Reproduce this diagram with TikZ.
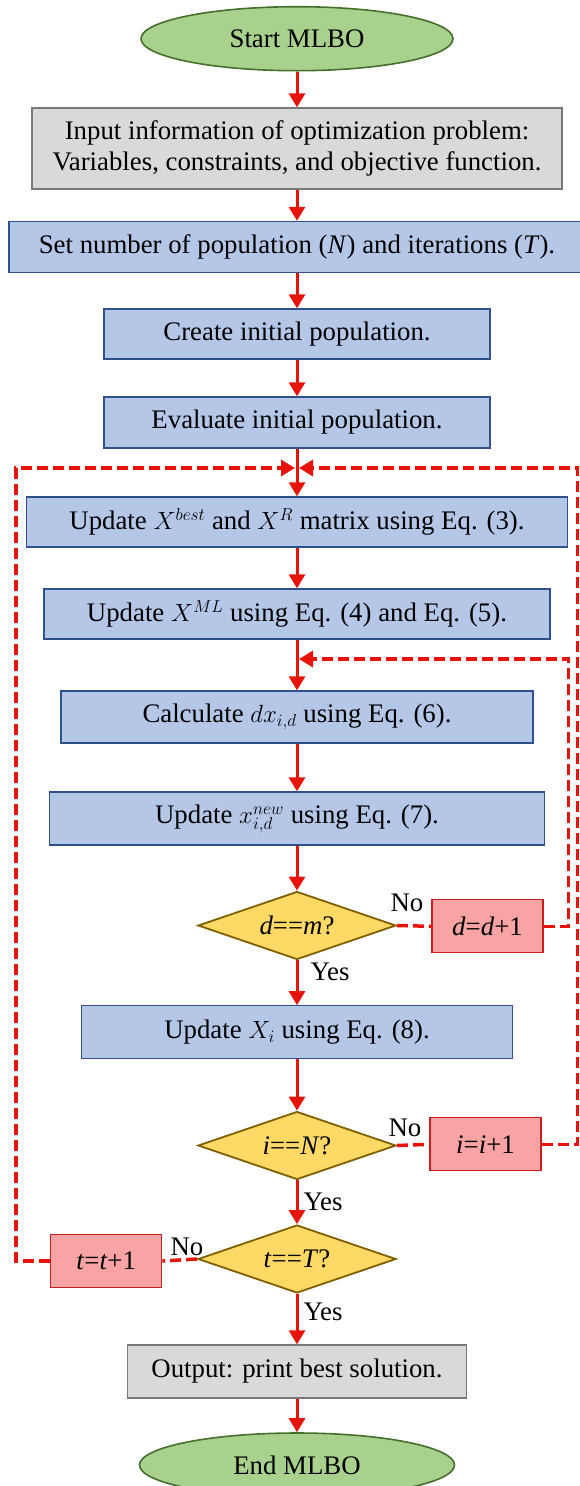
\documentclass[tikz,border=0pt]{standalone}
\usepackage{fontspec}
\setmainfont{Liberation Serif}
\usetikzlibrary{shapes.geometric,arrows.meta}
\definecolor{ared}{RGB}{230,20,10}
\definecolor{bfill}{RGB}{180,199,231}
\definecolor{bline}{RGB}{47,82,143}
\definecolor{gfill}{RGB}{217,217,217}
\definecolor{gline}{RGB}{120,120,120}
\definecolor{tfill}{RGB}{169,209,142}
\definecolor{tline}{RGB}{70,110,45}
\definecolor{yfill}{RGB}{255,217,102}
\definecolor{yline}{RGB}{127,96,0}
\definecolor{rfill}{RGB}{248,164,164}
\definecolor{rline}{RGB}{200,30,30}
\tikzset{
  bbox/.style={rectangle, draw=bline, fill=bfill, line width=1.3pt, inner sep=0pt, align=center},
  gbox/.style={rectangle, draw=gline, fill=gfill, line width=1.3pt, inner sep=0pt, align=center},
  rbox/.style={rectangle, draw=rline, fill=rfill, line width=1.3pt, inner sep=0pt, minimum width=111pt, minimum height=53pt},
  term/.style={ellipse, draw=tline, fill=tfill, line width=1.6pt, inner sep=0pt, minimum width=312pt, minimum height=64pt},
  dec/.style={diamond, draw=yline, fill=yfill, line width=1.8pt, inner sep=0pt, aspect=2.9, minimum width=198pt, minimum height=68pt},
  lbl/.style={inner sep=0pt},
  arr/.style={draw=ared, line width=3pt, -{Triangle[width=16pt,length=14pt]}},
  dloop/.style={draw=ared, line width=3.5pt, dash pattern=on 11pt off 5pt},
  darr/.style={dloop, -{Triangle[width=16pt,length=14pt]}},
}
\begin{document}
\begin{tikzpicture}[x=1pt,y=-1pt,font=\fontsize{26.8}{31}\selectfont]
\useasboundingbox (0,0) rectangle (580,1486);
\node[term] (start) at (297,38.7) {Start MLBO};
\node[gbox, minimum width=530pt, minimum height=81pt] (input) at (297,148.5) {Input information of optimization problem:\\Variables, constraints, and objective function.};
\node[bbox, minimum width=576pt, minimum height=51pt] (set) at (297,247) {Set number of population (\textit{N}) and iterations (\textit{T}).};
\node[bbox, minimum width=386pt, minimum height=50pt] (create) at (297,334) {Create initial population.};
\node[bbox, minimum width=386pt, minimum height=51pt] (eval) at (297,422.5) {Evaluate initial population.};
\coordinate (m1) at (297,468);
\node[bbox, minimum width=541pt, minimum height=50pt] (best) at (297,522) {Update $X^{best}$ and $X^{R}$ matrix using Eq. (3).};
\node[bbox, minimum width=506pt, minimum height=50pt] (ml) at (297,614) {Update $X^{ML}$ using Eq. (4) and Eq. (5).};
\coordinate (m2) at (297,659);
\node[bbox, minimum width=472pt, minimum height=52pt] (calc) at (297,717) {Calculate $dx_{i,d}$ using Eq. (6).};
\node[bbox, minimum width=495pt, minimum height=53pt] (new) at (297,818.5) {Update $x_{i,d}^{new}$ using Eq. (7).};
\node[dec] (dm) at (297,925.5) {\textit{d}==\textit{m}?};
\node[rbox] (dd) at (487.5,926.3) {\textit{d}=\textit{d}+1};
\node[bbox, minimum width=431pt, minimum height=53pt] (xi) at (297,1032.3) {Update $X_i$ using Eq. (8).};
\node[dec] (iN) at (297,1145.5) {\textit{i}==\textit{N}?};
\node[rbox] (ii) at (485.5,1144.3) {\textit{i}=\textit{i}+1};
\node[dec] (tT) at (297,1259) {\textit{t}==\textit{T}?};
\node[rbox] (tt) at (106.2,1261) {\textit{t}=\textit{t}+1};
\node[gbox, minimum width=339pt, minimum height=53pt] (out) at (297,1371.5) {Output: print best solution.};
\node[term, minimum width=315pt] (end) at (297,1465) {End MLBO};
\node[lbl] (y1) at (330,972) {Yes};
\node[lbl] (y2) at (323,1202) {Yes};
\node[lbl] (y3) at (323,1312) {Yes};
\node[lbl] (n1) at (407,903) {No};
\node[lbl] (n2) at (405,1128) {No};
\node[lbl] (n3) at (187,1247) {No};
% main arrows
\draw[arr] (start.south) -- (input.north);
\draw[arr] (input.south) -- (set.north);
\draw[arr] (set.south) -- (create.north);
\draw[arr] (create.south) -- (eval.north);
\draw[arr] (eval.south) -- (best.north);
\draw[arr] (best.south) -- (ml.north);
\draw[arr] (ml.south) -- (calc.north);
\draw[arr] (calc.south) -- (new.north);
\draw[arr] (new.south) -- (dm.north);
\draw[arr] (dm.south) -- (xi.north);
\draw[arr] (xi.south) -- (iN.north);
\draw[arr] (iN.south) -- (tT.north);
\draw[arr] (tT.south) -- (out.north);
\draw[arr] (out.south) -- (end.north);
% dashed loops
\draw[dloop] (dm.east) -- (dd.west);
\draw[darr] (dd.east) -- ++(25,0) |- ([xshift=2pt]m2);
\draw[dloop] (iN.east) -- (ii.west);
\draw[darr] (ii.east) -- ++(36,0) |- ([xshift=2pt]m1);
\draw[dloop] (tT.west) -- (tt.east);
\draw[darr] (tt.west) -- ++(-34,0) |- ([xshift=-2pt]m1);
\end{tikzpicture}
\end{document}
